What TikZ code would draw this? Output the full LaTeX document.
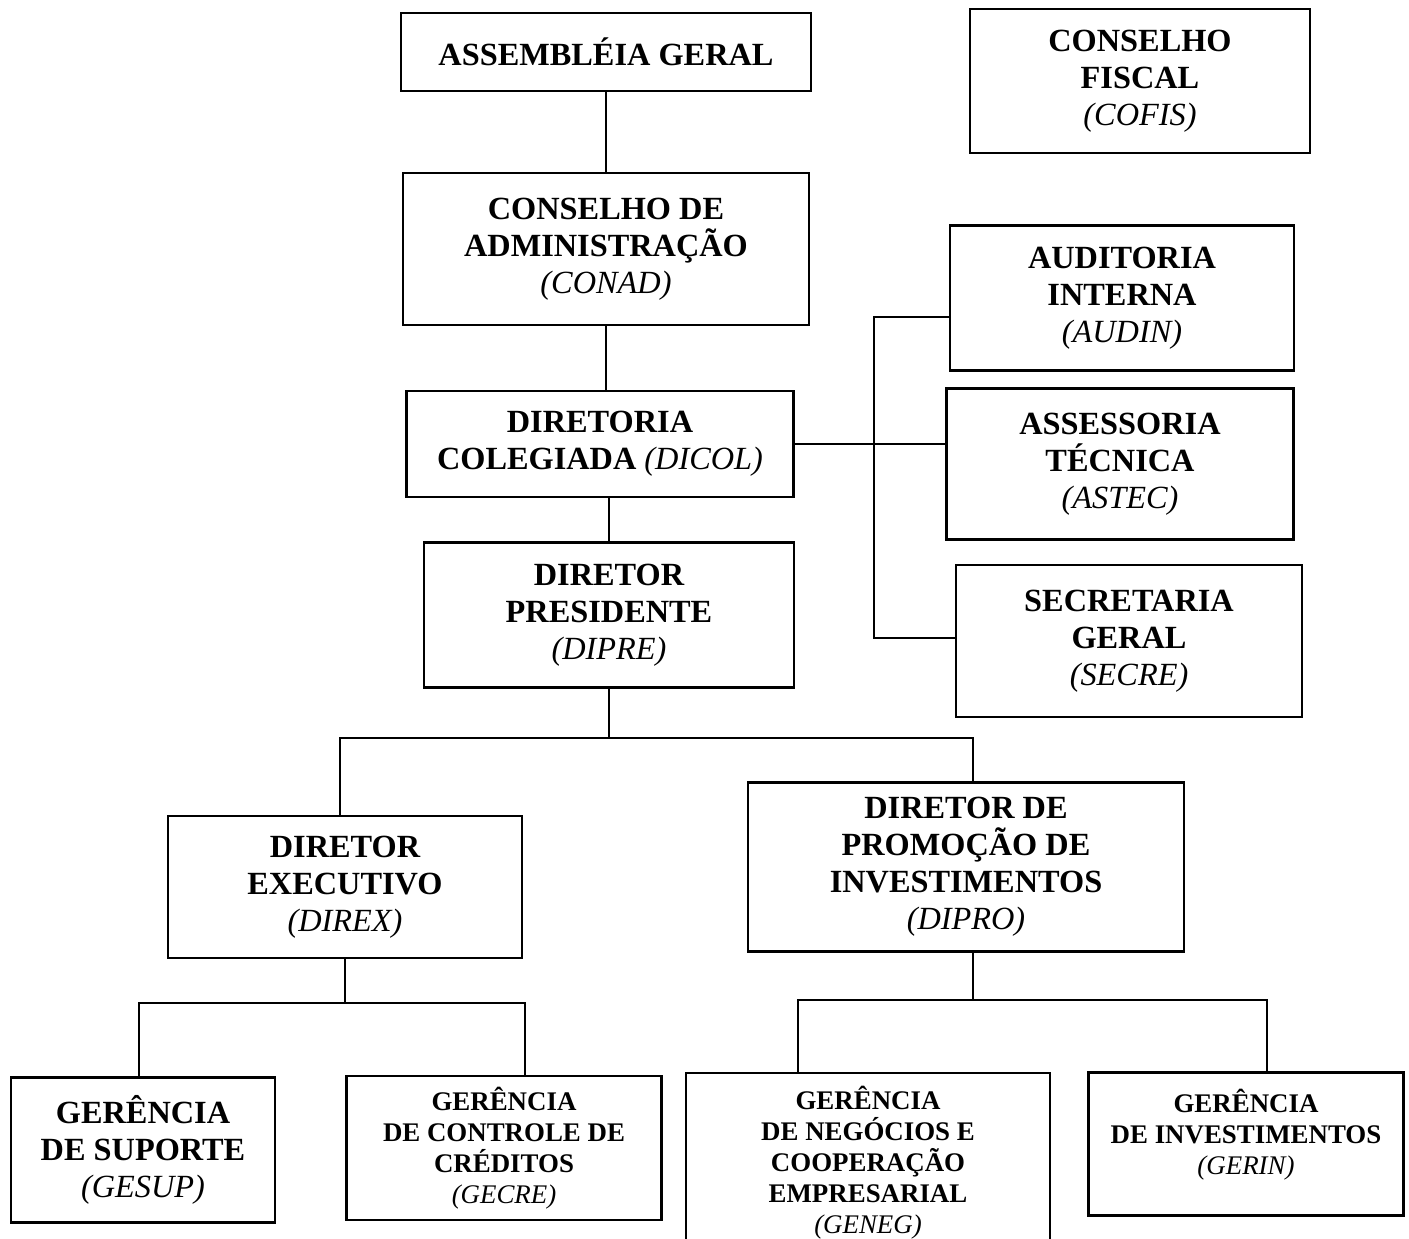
\documentclass[tikz,border=0pt]{standalone}
\usepackage{fontspec}
\setmainfont{Liberation Serif}
\begin{document}
\begin{tikzpicture}[x=0.02cm, y=-0.02cm,
    unit/.style={draw, line width=1.6pt, align=center, inner sep=0pt,
      font=\fontsize{18.4}{21}\selectfont\bfseries},
    small/.style={unit, font=\fontsize{15.3}{17.6}\selectfont\bfseries},
    link/.style={line width=1.1pt}]
  \useasboundingbox (0,0) rectangle (1409,1239);
  % upper part
  \node[unit, minimum width=8.2cm, minimum height=1.56cm] (ag) at (606,52) {ASSEMBLÉIA GERAL};
  \node[unit, minimum width=6.8cm, minimum height=2.88cm] (cofis) at (1140,81) {CONSELHO\\FISCAL\\\textmd{\itshape(COFIS)}};
  \node[unit, minimum width=8.12cm, minimum height=3.04cm] (conad) at (606,249) {CONSELHO DE\\ADMINISTRAÇÃO\\\textmd{\itshape(CONAD)}};
  \node[unit, minimum width=7.74cm, minimum height=2.12cm] (dicol) at (600,444) {DIRETORIA\\COLEGIADA \textmd{\itshape(DICOL)}};
  \node[unit, minimum width=7.4cm, minimum height=2.9cm] (dipre) at (609,615) {DIRETOR\\PRESIDENTE\\\textmd{\itshape(DIPRE)}};
  % staff units
  \node[unit, minimum width=6.88cm, minimum height=2.9cm] (audin) at (1122,298) {AUDITORIA\\INTERNA\\\textmd{\itshape(AUDIN)}};
  \node[unit, minimum width=6.94cm, minimum height=3.02cm] (astec) at (1120,464) {ASSESSORIA\\TÉCNICA\\\textmd{\itshape(ASTEC)}};
  \node[unit, minimum width=6.92cm, minimum height=3.04cm] (secre) at (1129,641) {SECRETARIA\\GERAL\\\textmd{\itshape(SECRE)}};
  % directors
  \node[unit, minimum width=7.08cm, minimum height=2.84cm] (direx) at (345,887) {DIRETOR\\EXECUTIVO\\\textmd{\itshape(DIREX)}};
  \node[unit, minimum width=8.72cm, minimum height=3.38cm] (dipro) at (966,867) {DIRETOR DE\\PROMOÇÃO DE\\INVESTIMENTOS\\\textmd{\itshape(DIPRO)}};
  % managements
  \node[unit, minimum width=5.28cm, minimum height=2.9cm] (gesup) at (143,1150) {GERÊNCIA\\DE SUPORTE\\\textmd{\itshape(GESUP)}};
  \node[small, minimum width=6.3cm, minimum height=2.88cm] (gecre) at (504,1148) {GERÊNCIA\\DE CONTROLE DE\\CRÉDITOS\\\textmd{\itshape(GECRE)}};
  \node[small, minimum width=7.28cm, minimum height=3.6cm] (geneg) at (868,1163) {GERÊNCIA\\DE NEGÓCIOS E\\COOPERAÇÃO\\EMPRESARIAL\\\textmd{\itshape(GENEG)}};
  \node[small, minimum width=6.3cm, minimum height=2.86cm, text depth=0.5cm] (gerin) at (1246,1144) {GERÊNCIA\\DE INVESTIMENTOS\\\textmd{\itshape(GERIN)}};

  \coordinate (s1) at (874,317);
  \coordinate (s2) at (874,638);
  \coordinate (b1l) at (340,738);
  \coordinate (b1r) at (973,738);
  \coordinate (b2l) at (139,1003);
  \coordinate (b2r) at (525,1003);
  \coordinate (b3l) at (798,1000);
  \coordinate (b3r) at (1267,1000);

  \draw[link] (ag) -- (conad);
  \draw[link] (conad.south) -- (conad.south |- dicol.north);
  \draw[link] (dipre.north |- dicol.south) -- (dipre.north);
  \draw[link] (dicol.east) -- (dicol.east -| astec.west);
  \draw[link] (s1 -| audin.west) -- (s1) -- (s2) -- (s2 -| secre.west);
  \draw[link] (dipre.south) -- (dipre.south |- b1l);
  \draw[link] (b1l |- direx.north) -- (b1l) -- (b1r) -- (b1r |- dipro.north);
  \draw[link] (direx.south) -- (direx.south |- b2l);
  \draw[link] (b2l |- gesup.north) -- (b2l) -- (b2r) -- (b2r |- gecre.north);
  \draw[link] (b1r |- dipro.south) -- (b1r |- b3l);
  \draw[link] (b3l |- geneg.north) -- (b3l) -- (b3r) -- (b3r |- gerin.north);
\end{tikzpicture}
\end{document}
